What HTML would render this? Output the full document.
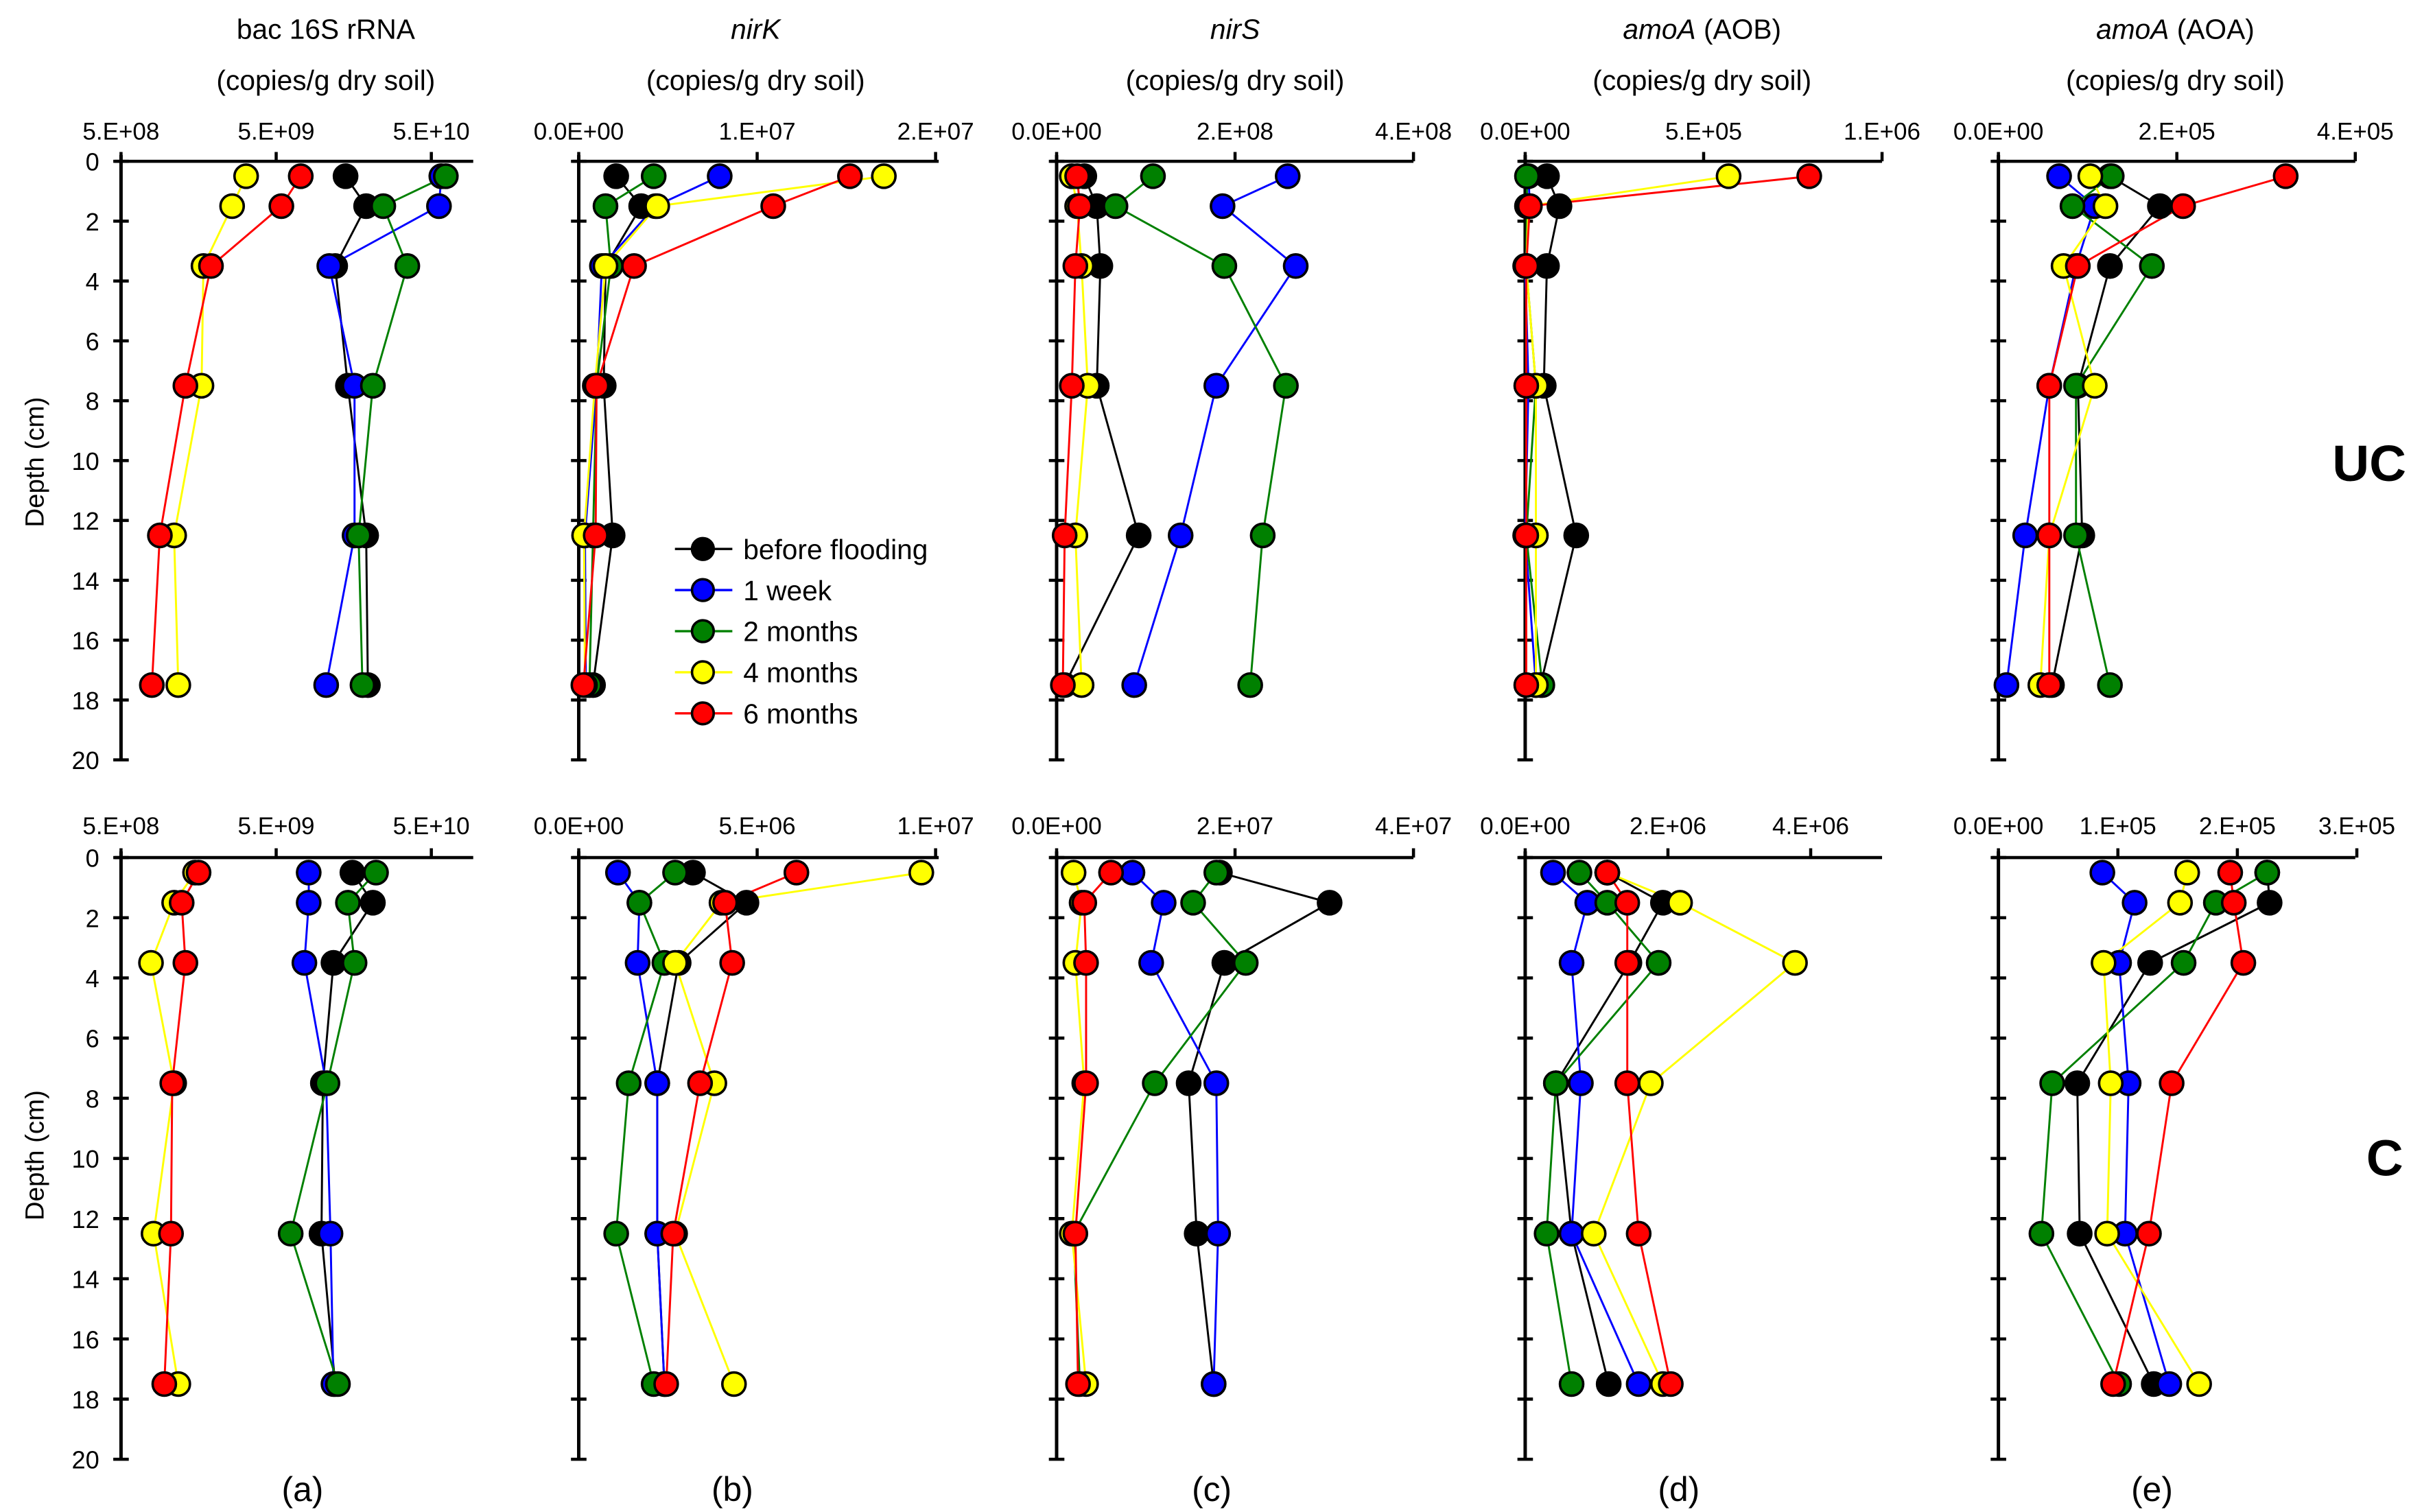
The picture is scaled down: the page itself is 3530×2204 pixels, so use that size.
<!DOCTYPE html>
<html><head><meta charset="utf-8"><style>
html,body{margin:0;padding:0;background:#fff;}
svg{display:block;font-family:"Liberation Sans",Arial,sans-serif;}
</style></head><body>
<svg id="fig" width="3530" height="2204" viewBox="0 0 1561 975" preserveAspectRatio="none" xmlns="http://www.w3.org/2000/svg"></svg>
<script>
// Depths (cm)
const depths=[0.5,1.5,3.5,7.5,12.5,17.5];
const seriesNames=["before flooding","1 week","2 months","4 months","6 months"];
const seriesColors=["#000000","#0000ff","#008000","#ffff00","#ff0000"];
const depthTicks=[0,2,4,6,8,10,12,14,16,18,20];
// (a) bac 16S rRNA, UC
const aUC_before=[1.4e10,1.9e10,1.2e10,1.45e10,1.9e10,1.95e10];
const aUC_week=[5.8e10,5.6e10,1.1e10,1.6e10,1.6e10,1.05e10];
const aUC_m2=[6.2e10,2.45e10,3.5e10,2.1e10,1.7e10,1.8e10];
const aUC_m4=[3.2e9,2.6e9,1.7e9,1.65e9,1.1e9,1.17e9];
const aUC_m6=[7.2e9,5.4e9,1.9e9,1.3e9,8.9e8,7.9e8];
// (a) C
const aC_before=[1.55e10,2.1e10,1.17e10,1.0e10,9.8e9,1.2e10];
const aC_week=[8.1e9,8.1e9,7.6e9,1.05e10,1.12e10,1.17e10];
const aC_m2=[2.2e10,1.45e10,1.6e10,1.07e10,6.2e9,1.25e10];
const aC_m4=[1.5e9,1.1e9,7.8e8,1.1e9,8.1e8,1.17e9];
const aC_m6=[1.58e9,1.23e9,1.3e9,1.07e9,1.05e9,9.5e8];
// (b) nirK
const bUC_before=[2.1e6,3.5e6,1.5e6,1.4e6,1.9e6,0.8e6];
const bUC_week=[7.9e6,4.3e6,1.3e6,1.0e6,0.35e6,0.4e6];
const bUC_m2=[4.2e6,1.5e6,1.8e6,1.0e6,0.8e6,0.6e6];
const bUC_m4=[17.1e6,4.4e6,1.5e6,0.9e6,0.3e6,0.35e6];
const bUC_m6=[15.2e6,10.9e6,3.1e6,1.0e6,0.95e6,0.26e6];
const bC_before=[3.2e6,4.7e6,2.8e6,2.2e6,2.2e6,2.4e6];
const bC_week=[1.1e6,1.7e6,1.65e6,2.2e6,2.2e6,2.4e6];
const bC_m2=[2.7e6,1.7e6,2.4e6,1.4e6,1.05e6,2.1e6];
const bC_m4=[9.6e6,4.0e6,2.7e6,3.8e6,2.7e6,4.35e6];
const bC_m6=[6.1e6,4.1e6,4.3e6,3.4e6,2.65e6,2.45e6];
// (c) nirS
const cUC_before=[3.1e7,4.5e7,4.9e7,4.5e7,9.2e7,0.9e7];
const cUC_week=[25.9e7,18.6e7,26.8e7,17.9e7,13.9e7,8.7e7];
const cUC_m2=[10.8e7,6.6e7,18.8e7,25.7e7,23.1e7,21.7e7];
const cUC_m4=[1.7e7,2.3e7,2.8e7,3.5e7,2.1e7,2.8e7];
const cUC_m6=[2.3e7,2.6e7,2.1e7,1.7e7,0.9e7,0.7e7];
const cC_before=[18.3e6,30.6e6,18.8e6,14.8e6,15.7e6,17.6e6];
const cC_week=[8.5e6,12.0e6,10.6e6,17.9e6,18.1e6,17.6e6];
const cC_m2=[17.9e6,15.3e6,21.2e6,11.0e6,1.9e6,2.6e6];
const cC_m4=[1.9e6,2.8e6,2.1e6,3.1e6,1.7e6,3.3e6];
const cC_m6=[6.1e6,3.1e6,3.3e6,3.3e6,2.1e6,2.4e6];
// (d) amoA AOB
const dUC_before=[6.1e4,9.6e4,6.1e4,5.2e4,14.3e4,4.3e4];
const dUC_week=[0.9e4,1.3e4,0,0.9e4,0,3e4];
const dUC_m2=[0.5e4,0.5e4,0.3e4,3e4,0.3e4,4.8e4];
const dUC_m4=[57e4,0.9e4,0.3e4,3e4,3e4,3e4];
const dUC_m6=[79.6e4,1.3e4,0.3e4,0.3e4,0.3e4,0.3e4];
const dC_before=[11.5e5,19.3e5,14.6e5,4.3e5,6.5e5,11.7e5];
const dC_week=[3.9e5,8.7e5,6.5e5,7.8e5,6.5e5,15.9e5];
const dC_m2=[7.6e5,11.5e5,18.7e5,4.3e5,3.0e5,6.5e5];
const dC_m4=[11.5e5,21.7e5,37.8e5,17.6e5,9.6e5,19.3e5];
const dC_m6=[11.5e5,14.3e5,14.3e5,14.3e5,15.9e5,20.4e5];
// (e) amoA AOA
const eUC_before=[12.5e4,18.1e4,12.5e4,8.9e4,9.4e4,6e4];
const eUC_week=[6.8e4,10.8e4,8.7e4,5.7e4,3.0e4,0.9e4];
const eUC_m2=[12.7e4,8.3e4,17.2e4,8.7e4,8.7e4,12.5e4];
const eUC_m4=[10.3e4,12.0e4,7.3e4,10.8e4,5.7e4,4.7e4];
const eUC_m6=[32.2e4,20.7e4,8.9e4,5.7e4,5.7e4,5.7e4];
const eC_before=[22.5e4,22.7e4,12.7e4,6.6e4,6.8e4,13.0e4];
const eC_week=[8.7e4,11.4e4,10.1e4,10.9e4,10.6e4,14.3e4];
const eC_m2=[22.5e4,18.2e4,15.5e4,4.5e4,3.6e4,10.1e4];
const eC_m4=[15.8e4,15.2e4,8.8e4,9.4e4,9.1e4,16.8e4];
const eC_m6=[19.4e4,19.7e4,20.5e4,14.5e4,12.6e4,9.6e4];
// tick labels
const aTicks=[5e8,5e9,5e10]; const aTickLabels=["5.E+08","5.E+09","5.E+10"];
const bUCTicks=[0,1e7,2e7]; const bUCTickLabels=["0.0E+00","1.E+07","2.E+07"];
const bCTicks=[0,5e6,1e7]; const bCTickLabels=["0.0E+00","5.E+06","1.E+07"];
const cUCTicks=[0,2e8,4e8]; const cUCTickLabels=["0.0E+00","2.E+08","4.E+08"];
const cCTicks=[0,2e7,4e7]; const cCTickLabels=["0.0E+00","2.E+07","4.E+07"];
const dUCTicks=[0,5e5,1e6]; const dUCTickLabels=["0.0E+00","5.E+05","1.E+06"];
const dCTicks=[0,2e6,4e6]; const dCTickLabels=["0.0E+00","2.E+06","4.E+06"];
const eUCTicks=[0,2e5,4e5]; const eUCTickLabels=["0.0E+00","2.E+05","4.E+05"];
const eCTicks=[0,1e5,2e5,3e5]; const eCTickLabels=["0.0E+00","1.E+05","2.E+05","3.E+05"];

const NS="http://www.w3.org/2000/svg";
const svg=document.getElementById('fig');
function mk(tag,attrs,parent){const e=document.createElementNS(NS,tag);for(const k in attrs)e.setAttribute(k,attrs[k]);(parent||svg).appendChild(e);return e;}

const rows=[{y0:104,ppc:19.3,tickY:90,name:"uc"},{y0:553,ppc:19.4,tickY:538,name:"c"}];
function linX(x0,vmax,xmax){return v=>x0+(v/vmax)*(xmax-x0);}
function logX(x0){return v=>x0+100*Math.log10(v/5e8);}

const panels=[
 {id:"a",x0:78,xEnd:305,title:["bac 16S rRNA",""],it:"",cx:210,
  rows:[{s:logX(78),ticks:aTicks,labels:aTickLabels,data:[aUC_before,aUC_week,aUC_m2,aUC_m4,aUC_m6]},
        {s:logX(78),ticks:aTicks,labels:aTickLabels,data:[aC_before,aC_week,aC_m2,aC_m4,aC_m6]}]},
 {id:"b",x0:373,xEnd:605,it:"nirK",cx:487,
  rows:[{s:linX(373,2e7,603),ticks:bUCTicks,labels:bUCTickLabels,data:[bUC_before,bUC_week,bUC_m2,bUC_m4,bUC_m6]},
        {s:linX(373,1e7,603),ticks:bCTicks,labels:bCTickLabels,data:[bC_before,bC_week,bC_m2,bC_m4,bC_m6]}]},
 {id:"c",x0:681,xEnd:911,it:"nirS",cx:796,
  rows:[{s:linX(681,4e8,911),ticks:cUCTicks,labels:cUCTickLabels,data:[cUC_before,cUC_week,cUC_m2,cUC_m4,cUC_m6]},
        {s:linX(681,4e7,911),ticks:cCTicks,labels:cCTickLabels,data:[cC_before,cC_week,cC_m2,cC_m4,cC_m6]}]},
 {id:"d",x0:983,xEnd:1213,it:"amoA",suf:" (AOB)",cx:1097,
  rows:[{s:linX(983,1e6,1213),ticks:dUCTicks,labels:dUCTickLabels,data:[dUC_before,dUC_week,dUC_m2,dUC_m4,dUC_m6]},
        {s:linX(983,4e6,1167),ticks:dCTicks,labels:dCTickLabels,data:[dC_before,dC_week,dC_m2,dC_m4,dC_m6]}]},
 {id:"e",x0:1288,xEnd:1518,it:"amoA",suf:" (AOA)",cx:1402,
  rows:[{s:linX(1288,4e5,1518),ticks:eUCTicks,labels:eUCTickLabels,data:[eUC_before,eUC_week,eUC_m2,eUC_m4,eUC_m6]},
        {s:linX(1288,3e5,1519),ticks:eCTicks,labels:eCTickLabels,data:[eC_before,eC_week,eC_m2,eC_m4,eC_m6]}]}
];

panels.forEach(p=>{
  // title
  const t1=mk('text',{x:p.cx,y:25,'text-anchor':'middle','font-size':18});
  
  
  if(p.id==="a"){t1.textContent="bac 16S rRNA";}
  else{const ts=mk('tspan',{'font-style':'italic'},t1);ts.textContent=p.it;if(p.suf){const t2=mk('tspan',{},t1);t2.textContent=p.suf;}}
  const t2=mk('text',{x:p.cx,y:58,'text-anchor':'middle','font-size':18});
  
  
  t2.textContent="(copies/g dry soil)";
  // panel letter
  const pl=mk('text',{x:p.cx-15,y:968,'text-anchor':'middle','font-size':22});
  
  
  pl.textContent="("+p.id+")";

  p.rows.forEach((r,ri)=>{
    const R=rows[ri];
    const g=mk('g',{});
    
    
    const yS=d=>R.y0+d*R.ppc;
    // x axis
    const xa=mk('line',{x1:p.x0-4,y1:R.y0,x2:p.xEnd,y2:R.y0,stroke:'#000','stroke-width':2},g);
    
    
    r.ticks.forEach((tv,i)=>{
      const x=r.s(tv);
      mk('line',{x1:x,y1:R.y0-6,x2:x,y2:R.y0,stroke:'#000','stroke-width':2},g);
      const tl=mk('text',{x:x,y:R.tickY,'text-anchor':'middle','font-size':15.5},g);
      
      
      tl.textContent=r.labels[i];
    });
    // y axis
    const ya=mk('line',{x1:p.x0,y1:R.y0-4,x2:p.x0,y2:yS(20),stroke:'#000','stroke-width':2.2},g);
    
    
    depthTicks.forEach(d=>{
      mk('line',{x1:p.x0-5,y1:yS(d),x2:p.x0+5,y2:yS(d),stroke:'#000','stroke-width':2},g);
      if(p.id==="a"){
        const dl=mk('text',{x:p.x0-14,y:yS(d)+6,'text-anchor':'end','font-size':16},g);
        
        
        dl.textContent=d;
      }
    });
    // series
    r.data.forEach((vals,si)=>{
      const pts=vals.map((v,i)=>r.s(v).toFixed(1)+","+yS(depths[i]).toFixed(1)).join(" ");
      const pl=mk('polyline',{points:pts,fill:'none',stroke:seriesColors[si],'stroke-width':1.3},g);
      
      
    });
    r.data.forEach((vals,si)=>{
      vals.forEach((v,i)=>{
        const c=mk('circle',{cx:r.s(v),cy:yS(depths[i]),r:7.5,fill:seriesColors[si],stroke:'#000','stroke-width':1.6},g);
        
        
      });
    });
  });
});

// depth axis titles
[298,745].forEach((cy,i)=>{
  const t=mk('text',{x:0,y:0,'text-anchor':'middle','font-size':17,transform:'translate(28,'+cy+') rotate(-90)'});
  
  
  t.textContent="Depth (cm)";
});
const uc=mk('text',{x:1527,y:310,'text-anchor':'middle','font-size':33,'font-weight':'bold'});


uc.textContent="UC";
const cl=mk('text',{x:1537,y:758,'text-anchor':'middle','font-size':33,'font-weight':'bold'});


cl.textContent="C";

// legend
const lg=mk('g',{});


seriesNames.forEach((n,i)=>{
  const y=354+i*26.5;
  const ln=mk('line',{x1:435,y1:y,x2:472,y2:y,stroke:seriesColors[i],'stroke-width':1.5},lg);
  
  
  const c=mk('circle',{cx:453,cy:y,r:7,fill:seriesColors[i],stroke:'#000','stroke-width':1.6},lg);
  
  
  const t=mk('text',{x:479,y:y+6.5,'font-size':18},lg);
  
  
  t.textContent=n;
});
</script>
</body></html>
